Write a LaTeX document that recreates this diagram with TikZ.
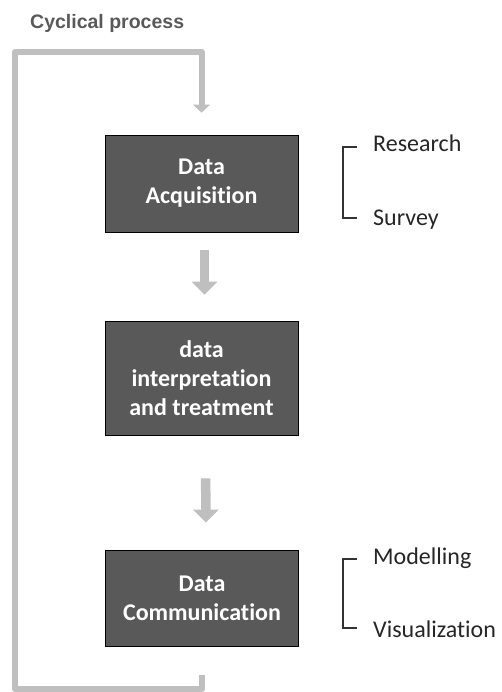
\documentclass[tikz,border=0pt]{standalone}
\usepackage{fontspec}
\usepackage{tikz}
\usetikzlibrary{arrows.meta}
\newfontfamily\calibri[Ligatures=NoCommon]{Carlito}
\newfontfamily\arial{Liberation Sans}

\begin{document}
\begin{tikzpicture}[x=1pt, y=-1pt,
    stage/.style={draw=black, line width=0.8pt, fill=black!65, text=white,
        minimum width=193pt, align=center,
        font=\calibri\bfseries\fontsize{24}{29}\selectfont},
    item/.style={anchor=base west, inner sep=0pt, text=black!85,
        font=\calibri\fontsize{24}{29}\selectfont},
    flow/.style={draw=black!25, line width=9.5pt,
        -{Triangle[width=25pt, length=13pt]}},
    cycleline/.style={draw=black!25, line width=6pt, line join=round,
        -{Triangle[width=17pt, length=8pt]}},
    bracket/.style={draw=black!80, line width=1.2pt}]
    \useasboundingbox (0,0) rectangle (501,692);

    \node[anchor=west, inner sep=0pt, text=black!65,
        font=\arial\bfseries\fontsize{19.5}{22}\selectfont] (title) at (30,23) {Cyclical\ process};

    \node[stage, minimum height=97pt] (acq) at (201.5,183.5) {Data\\Acquisition};
    \node[stage, minimum height=114pt] (treat) at (201.5,378) {data\\interpretation\\and treatment};
    \node[stage, minimum height=96pt] (comm) at (202,598) {Data\\Communication};

    \draw[flow, shorten <=18pt, shorten >=26pt] ([xshift=3pt]acq.south) -- ([xshift=3pt]treat.north);
    \draw[flow, shorten <=43pt, shorten >=27pt] ([xshift=4pt]treat.south) -- ([xshift=4pt]comm.north);

    \draw[cycleline] ([yshift=-29pt]comm.south) -- ([yshift=-43pt]comm.south)
        -| (15,52) -| ([yshift=22pt]acq.north);

    \node[item] (research) at (373,152) {Research};
    \node[item] (survey) at (373,226) {Survey};
    \node[item] (modelling) at (373,564) {Modelling};
    \node[item] (visual) at (373,637) {Visualization};

    \draw[bracket] ([xshift=-16pt, yshift=5pt]research.base west) -| ([xshift=-30pt, yshift=8pt]survey.base west)
        -- ([xshift=-16pt, yshift=8pt]survey.base west);
    \draw[bracket] ([xshift=-16pt, yshift=5pt]modelling.base west) -| ([xshift=-30pt, yshift=9pt]visual.base west)
        -- ([xshift=-16pt, yshift=9pt]visual.base west);
\end{tikzpicture}
\end{document}
